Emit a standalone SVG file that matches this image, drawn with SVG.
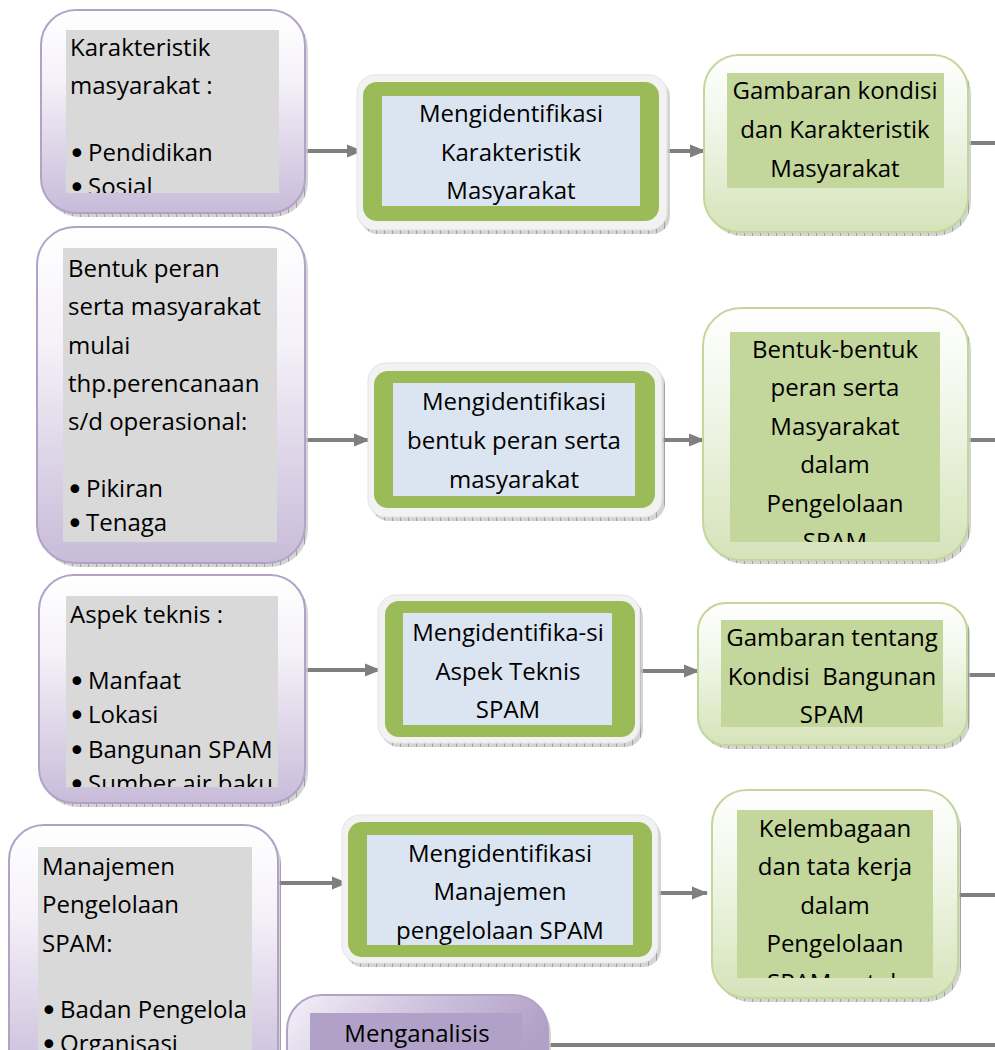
<svg xmlns="http://www.w3.org/2000/svg" width="995" height="1050" viewBox="0 0 995 1050">
<defs>
<linearGradient id="gPurple" x1="0" y1="0" x2="0" y2="1">
<stop offset="0" stop-color="#ffffff"/>
<stop offset="0.35" stop-color="#f4f1f8"/>
<stop offset="1" stop-color="#c8bbd9"/>
</linearGradient>
<linearGradient id="gGreen" x1="0" y1="0" x2="0" y2="1">
<stop offset="0" stop-color="#ffffff"/>
<stop offset="0.4" stop-color="#f1f6e8"/>
<stop offset="1" stop-color="#d5e3b9"/>
</linearGradient>
<linearGradient id="gPurpleH" x1="0" y1="0" x2="1" y2="0.3">
<stop offset="0" stop-color="#f4f1f8"/>
<stop offset="0.5" stop-color="#cfc3de"/>
<stop offset="1" stop-color="#b1a0c7"/>
</linearGradient>
<pattern id="hatch" width="8" height="6" patternUnits="userSpaceOnUse">
<rect width="8" height="6" fill="#c9c9c9"/>
<line x1="0.5" y1="0" x2="0.5" y2="6" stroke="#8a8a8a" stroke-width="1"/>
</pattern>
<marker id="arr" markerWidth="16" markerHeight="16" refX="15" refY="8" orient="auto" markerUnits="userSpaceOnUse">
<path d="M0,1.5 L16,8 L0,14.5 Z" fill="#7f7f7f"/>
</marker>
<clipPath id="cA"><rect x="66" y="30" width="213" height="163"/></clipPath>
<clipPath id="cD"><rect x="63" y="248" width="214" height="294"/></clipPath>
<clipPath id="cF"><rect x="730" y="332" width="210" height="210"/></clipPath>
<clipPath id="cG"><rect x="66" y="596" width="212" height="191"/></clipPath>
<clipPath id="cJ"><rect x="38" y="847" width="214" height="210"/></clipPath>
<clipPath id="cL"><rect x="737" y="810" width="196" height="168"/></clipPath>
<clipPath id="cM"><rect x="310" y="1013" width="212" height="50"/></clipPath>
</defs>
<style>
text{font-family:"Open Sans","Liberation Sans",sans-serif;font-size:24px;fill:#000;}
text.b{font-family:"DejaVu Sans",sans-serif;font-size:30px;}
.c{text-anchor:middle;}
.pOut{fill:url(#gPurple);stroke:#b3a2c7;stroke-width:2;}
.gOut{fill:url(#gGreen);stroke:#c3d69b;stroke-width:2;}
.shadow{fill:url(#hatch);opacity:0.8;}
.gray{fill:#d9d9d9;}
.lg{fill:#c3d69b;}
.wOut{fill:#f2f2f2;stroke:#e3e3e3;stroke-width:1;}
.grn{fill:#9bbb59;}
.blu{fill:#dbe5f1;}
.conn{stroke:#7f7f7f;stroke-width:4;fill:none;}
</style>

<g id="connectors">
<line class="conn" x1="305" y1="151" x2="362" y2="151" marker-end="url(#arr)"/>
<line class="conn" x1="667" y1="151" x2="705" y2="151" marker-end="url(#arr)"/>
<line class="conn" x1="968" y1="143" x2="995" y2="143"/>
<line class="conn" x1="305" y1="440" x2="369" y2="440" marker-end="url(#arr)"/>
<line class="conn" x1="662" y1="440" x2="704" y2="440" marker-end="url(#arr)"/>
<line class="conn" x1="968" y1="440" x2="995" y2="440"/>
<line class="conn" x1="305" y1="670" x2="380" y2="670" marker-end="url(#arr)"/>
<line class="conn" x1="640" y1="671" x2="699" y2="671" marker-end="url(#arr)"/>
<line class="conn" x1="967" y1="675" x2="995" y2="675"/>
<line class="conn" x1="278" y1="883" x2="347" y2="883" marker-end="url(#arr)"/>
<line class="conn" x1="658" y1="893" x2="707" y2="893" marker-end="url(#arr)"/>
<line class="conn" x1="958" y1="895" x2="995" y2="895"/>
<line class="conn" x1="548" y1="1045" x2="995" y2="1045"/>
</g>

<g id="nodeA">
<rect class="shadow" x="44" y="14" width="264" height="203" rx="35"/>
<rect class="pOut" x="41" y="10" width="264" height="203" rx="35"/>
<rect class="gray" x="66" y="30" width="213" height="163"/>
<g clip-path="url(#cA)">
<text x="70" y="56">Karakteristik</text>
<text x="70" y="94">masyarakat :</text>
<text class="b" x="68" y="164">•</text><text x="88" y="161">Pendidikan</text>
<text class="b" x="68" y="198">•</text><text x="88" y="195">Sosial</text>
</g>
</g>

<g id="nodeB">
<rect class="shadow" x="360" y="79" width="310" height="155" rx="18"/>
<rect class="wOut" x="357" y="75" width="310" height="155" rx="18"/>
<rect class="grn" x="363" y="82" width="296" height="139" rx="14"/>
<rect class="blu" x="382" y="96" width="258" height="110"/>
<text class="c" x="511" y="122">Mengidentifikasi</text>
<text class="c" x="511" y="161">Karakteristik</text>
<text class="c" x="511" y="199">Masyarakat</text>
</g>

<g id="nodeC">
<rect class="shadow" x="707" y="59" width="264" height="177" rx="35"/>
<rect class="gOut" x="704" y="55" width="264" height="177" rx="35"/>
<rect class="lg" x="727" y="73" width="217" height="115"/>
<text class="c" x="835" y="99">Gambaran kondisi</text>
<text class="c" x="835" y="138">dan Karakteristik</text>
<text class="c" x="835" y="177">Masyarakat</text>
</g>

<g id="nodeD">
<rect class="shadow" x="40" y="231" width="268" height="336" rx="38"/>
<rect class="pOut" x="37" y="227" width="268" height="336" rx="38"/>
<rect class="gray" x="63" y="248" width="214" height="294"/>
<g clip-path="url(#cD)">
<text x="68" y="277">Bentuk peran</text>
<text x="68" y="315">serta masyarakat</text>
<text x="68" y="354">mulai</text>
<text x="68" y="392">thp.perencanaan</text>
<text x="68" y="430">s/d operasional:</text>
<text class="b" x="66" y="500">•</text><text x="86" y="497">Pikiran</text>
<text class="b" x="66" y="534">•</text><text x="86" y="531">Tenaga</text>
</g>
</g>

<g id="nodeE">
<rect class="shadow" x="371" y="367" width="294" height="154" rx="18"/>
<rect class="wOut" x="368" y="363" width="294" height="154" rx="18"/>
<rect class="grn" x="374" y="371" width="281" height="137" rx="14"/>
<rect class="blu" x="393" y="383" width="242" height="113"/>
<text class="c" x="514" y="410">Mengidentifikasi</text>
<text class="c" x="514" y="449">bentuk peran serta</text>
<text class="c" x="514" y="488">masyarakat</text>
</g>

<g id="nodeF">
<rect class="shadow" x="706" y="312" width="265" height="252" rx="38"/>
<rect class="gOut" x="703" y="308" width="265" height="252" rx="38"/>
<rect class="lg" x="730" y="332" width="210" height="210"/>
<g clip-path="url(#cF)">
<text class="c" x="835" y="358">Bentuk-bentuk</text>
<text class="c" x="835" y="396">peran serta</text>
<text class="c" x="835" y="435">Masyarakat</text>
<text class="c" x="835" y="473">dalam</text>
<text class="c" x="835" y="512">Pengelolaan</text>
<text class="c" x="835" y="550">SPAM</text>
</g>
</g>

<g id="nodeG">
<rect class="shadow" x="42" y="579" width="266" height="228" rx="35"/>
<rect class="pOut" x="39" y="575" width="266" height="228" rx="35"/>
<rect class="gray" x="66" y="596" width="212" height="191"/>
<g clip-path="url(#cG)">
<text x="70" y="623">Aspek teknis :</text>
<text class="b" x="68" y="692">•</text><text x="88" y="689">Manfaat</text>
<text class="b" x="68" y="726">•</text><text x="88" y="723">Lokasi</text>
<text class="b" x="68" y="761">•</text><text x="88" y="758">Bangunan SPAM</text>
<text class="b" x="68" y="795">•</text><text x="88" y="792">Sumber air baku</text>
</g>
</g>

<g id="nodeH">
<rect class="shadow" x="381" y="599" width="262" height="148" rx="18"/>
<rect class="wOut" x="378" y="595" width="262" height="148" rx="18"/>
<rect class="grn" x="385" y="601" width="250" height="136" rx="14"/>
<rect class="blu" x="403" y="613" width="209" height="112"/>
<text class="c" x="508" y="641">Mengidentifika-si</text>
<text class="c" x="508" y="680">Aspek Teknis</text>
<text class="c" x="508" y="718">SPAM</text>
</g>

<g id="nodeI">
<rect class="shadow" x="701" y="607" width="269" height="142" rx="28"/>
<rect class="gOut" x="698" y="603" width="269" height="142" rx="28"/>
<rect class="lg" x="721" y="620" width="222" height="107"/>
<text class="c" x="832" y="646">Gambaran tentang</text>
<text class="c" x="832" y="685" xml:space="preserve">Kondisi  Bangunan</text>
<text class="c" x="832" y="723">SPAM</text>
</g>

<g id="nodeJ">
<rect class="shadow" x="12" y="829" width="269" height="260" rx="35"/>
<rect class="pOut" x="9" y="825" width="269" height="260" rx="35"/>
<rect class="gray" x="38" y="847" width="214" height="210"/>
<g clip-path="url(#cJ)">
<text x="42" y="875">Manajemen</text>
<text x="42" y="913">Pengelolaan</text>
<text x="42" y="952">SPAM:</text>
<text class="b" x="40" y="1021">•</text><text x="60" y="1018">Badan Pengelola</text>
<text class="b" x="40" y="1055">•</text><text x="60" y="1052">Organisasi</text>
</g>
</g>

<g id="nodeK">
<rect class="shadow" x="345" y="819" width="316" height="148" rx="18"/>
<rect class="wOut" x="342" y="815" width="316" height="148" rx="18"/>
<rect class="grn" x="348" y="822" width="304" height="135" rx="14"/>
<rect class="blu" x="367" y="835" width="266" height="110"/>
<text class="c" x="500" y="862">Mengidentifikasi</text>
<text class="c" x="500" y="900">Manajemen</text>
<text class="c" x="500" y="939">pengelolaan SPAM</text>
</g>

<g id="nodeL">
<rect class="shadow" x="715" y="794" width="246" height="208" rx="35"/>
<rect class="gOut" x="712" y="790" width="246" height="208" rx="35"/>
<rect class="lg" x="737" y="810" width="196" height="168"/>
<g clip-path="url(#cL)">
<text class="c" x="835" y="837">Kelembagaan</text>
<text class="c" x="835" y="875">dan tata kerja</text>
<text class="c" x="835" y="914">dalam</text>
<text class="c" x="835" y="952">Pengelolaan</text>
<text class="c" x="835" y="991">SPAM untuk</text>
</g>
</g>

<g id="nodeM">
<rect class="shadow" x="290" y="999" width="261" height="100" rx="35"/>
<rect x="287" y="995" width="261" height="100" rx="35" fill="url(#gPurpleH)" stroke="#b3a2c7" stroke-width="2"/>
<rect x="310" y="1013" width="212" height="50" fill="#b1a0c7"/>
<g clip-path="url(#cM)">
<text class="c" x="417" y="1042">Menganalisis</text>
</g>
</g>
</svg>
